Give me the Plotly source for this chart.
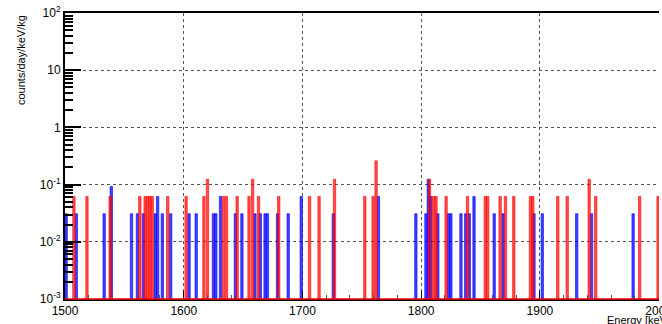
import plotly.graph_objects as go

# ---- data (bin centres in keV, rates in counts/day/keV/kg) ----
red_energy = [1507.5, 1518.5, 1538, 1563, 1567.5, 1569.5, 1571.5, 1573.5, 1586.5,
              1602, 1617, 1620, 1633.5, 1636, 1645, 1655, 1658, 1663, 1680,
              1706, 1714, 1727, 1752.5, 1759.5, 1762,
              1807, 1810.5, 1812.5, 1821, 1839, 1854, 1856, 1866.5, 1871, 1878,
              1892, 1894, 1915, 1923, 1941.5, 1947, 1984, 1999.5]
red_rate = [0.062, 0.062, 0.062, 0.062, 0.062, 0.062, 0.062, 0.062, 0.062,
            0.062, 0.062, 0.124, 0.062, 0.062, 0.062, 0.062, 0.124, 0.062, 0.062,
            0.062, 0.062, 0.124, 0.062, 0.062, 0.26,
            0.124, 0.062, 0.062, 0.062, 0.062, 0.062, 0.062, 0.062, 0.062, 0.062,
            0.062, 0.062, 0.062, 0.062, 0.124, 0.062, 0.062, 0.062]

blue_energy = [1501, 1509.5, 1533, 1539, 1556, 1561, 1566, 1576, 1578, 1582, 1589,
               1604.5, 1610.5, 1625, 1627, 1631, 1643.5, 1649, 1660, 1664.5,
               1668.5, 1670.5, 1679, 1688, 1699,
               1726, 1764, 1795.5,
               1804, 1806, 1808, 1814, 1823, 1825, 1833.5, 1837.5, 1840.5, 1844.5,
               1861.5, 1869, 1895, 1902, 1931, 1943.5, 1978.5]
blue_rate = [0.031, 0.031, 0.031, 0.093, 0.031, 0.031, 0.031, 0.031, 0.062, 0.031, 0.031,
             0.031, 0.031, 0.031, 0.031, 0.062, 0.031, 0.031, 0.031, 0.031,
             0.031, 0.031, 0.031, 0.031, 0.062,
             0.031, 0.062, 0.031,
             0.031, 0.124, 0.062, 0.031, 0.031, 0.031, 0.031, 0.031, 0.031, 0.062,
             0.031, 0.031, 0.031, 0.031, 0.031, 0.031, 0.031]

x_tickvals = [1500, 1600, 1700, 1800, 1900, 2000]
x_ticktext = ["1500", "1600", "1700", "1800", "1900", "2000"]
y_tickvals = [0.001, 0.01, 0.1, 1, 10, 100]
y_ticktext = ["10<sup>-3</sup>", "10<sup>-2</sup>", "10<sup>-1</sup>", "1", "10", "10<sup>2</sup>"]
y_minor = [d * 10.0 ** k for k in range(-3, 2) for d in range(2, 10)]

fig = go.Figure()
fig.add_trace(go.Bar(x=blue_energy, y=blue_rate, width=2,
                     marker=dict(color="rgba(0,0,255,0.75)",
                                 line=dict(color="rgb(0,0,255)", width=0.6))))
fig.add_trace(go.Bar(x=red_energy, y=red_rate, width=2,
                     marker=dict(color="rgba(255,0,0,0.7)",
                                 line=dict(color="rgb(255,0,0)", width=0.6))))

fig.update_layout(
    barmode="overlay", width=662, height=324,
    margin=dict(l=65, r=3, t=13, b=25, autoexpand=False),
    plot_bgcolor="white", paper_bgcolor="white", showlegend=False,
    font=dict(family="Liberation Sans, Arial, sans-serif", size=12, color="black"),
)
fig.update_xaxes(
    range=[1500, 2000.3], tickmode="array", tickvals=x_tickvals, ticktext=x_ticktext,
    automargin=False, ticklabeloverflow="allow",
    ticks="inside", ticklen=8, tickcolor="black", tickwidth=1,
    showline=True, linecolor="black", linewidth=1.5, mirror=True,
    showgrid=True, gridcolor="#555", griddash="dot", gridwidth=1, zeroline=False,
    minor=dict(dtick=20, tick0=1500, ticks="inside", ticklen=4, tickcolor="#555",
               showgrid=False),
)
fig.update_yaxes(
    type="log", range=[-3, 2], tickmode="array", tickvals=y_tickvals, ticktext=y_ticktext,
    automargin=False, ticklabeloverflow="allow",
    ticks="inside", ticklen=16, tickcolor="black", tickwidth=1.5,
    showline=True, linecolor="black", linewidth=2, mirror=False,
    showgrid=True, gridcolor="#555", griddash="dot", gridwidth=1, zeroline=False,
    minor=dict(tickmode="array", tickvals=y_minor, ticks="inside", ticklen=8,
               tickcolor="black", showgrid=False),
)
fig.add_shape(type="line", xref="paper", yref="paper", x0=0, x1=1, y0=0, y1=0,
              line=dict(color="red", width=1.5))
fig.add_annotation(text="counts/day/keV/kg", xref="paper", yref="paper",
                   x=(21 - 65) / 594, y=1, xanchor="center", yanchor="top",
                   textangle=-90, showarrow=False, font=dict(size=11))
fig.add_annotation(text="Energy [keV]", xref="paper", yref="paper",
                   x=(605 - 65) / 594, y=-21 / 286, xanchor="left", yanchor="middle",
                   showarrow=False, font=dict(size=11))

fig.write_html("out.html", config={"displayModeBar": False},
               post_script="document.body.style.margin='0px';"
                           "document.body.style.overflow='hidden';")
